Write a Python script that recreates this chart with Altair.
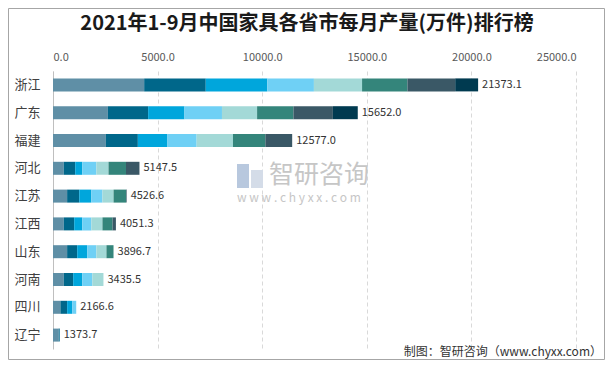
import altair as alt
import pandas as pd

provinces = ["浙江", "广东", "福建", "河北", "江苏", "江西", "山东", "河南", "四川", "辽宁"]
totals = [21373.1, 15652.0, 12577.0, 5147.5, 4526.6, 4051.3, 3896.7, 3435.5, 2166.6, 1373.7]
months = ["1-2月", "3月", "4月", "5月", "6月", "7月", "8月", "9月"]

m12 = [4358, 2623, 2528, 515, 675, 515, 675, 515, 354, 273]
m3 = [2944, 1925, 1528, 547, 579, 498, 482, 450, 322, 48]
m4 = [2943, 1736, 1415, 338, 579, 386, 482, 434, 241, 0]
m5 = [2227, 1793, 1396, 675, 531, 434, 434, 482, 193, 0]
m6 = [2302, 1679, 1736, 579, 531, 531, 482, 531, 0, 0]
m7 = [2169, 1736, 1547, 836, 595, 482, 338, 0, 0, 0]
m8 = [2283, 1887, 1283, 643, 30, 161, 0, 0, 0, 0]
m9 = [1095, 1189, 0, 0, 0, 0, 0, 0, 0, 0]

colors = ["#5f8fa6", "#00678a", "#00a6dc", "#6fd0f5", "#a3d9d7", "#34857b", "#3a5866", "#003a50"]

series = [m12, m3, m4, m5, m6, m7, m8, m9]
rows = []
for mi, (mname, vals) in enumerate(zip(months, series)):
    for p, v in zip(provinces, vals):
        if v > 0:
            rows.append({"province": p, "month": mname, "idx": mi, "value": v})
df = pd.DataFrame(rows)

ends = [sum(s[i] for s in series) for i in range(len(provinces))]
lab = pd.DataFrame({"province": provinces, "end": ends,
                    "text": [f"{t:.1f}" for t in totals]})

W, H = 523, 278
FONT = "Noto Sans CJK SC"

yenc = alt.Y("province:N", sort=provinces, title=None,
             scale=alt.Scale(paddingInner=0, paddingOuter=0),
             axis=alt.Axis(domain=True, domainColor="#bfbfbf", ticks=False,
                           labelPadding=13, labelFontSize=13, labelColor="#404040",
                           labelFont=FONT, grid=False))

bars = alt.Chart(df).mark_bar(size=13).encode(
    x=alt.X("value:Q", stack="zero", title=None,
            scale=alt.Scale(domain=[0, 25000], nice=False),
            axis=alt.Axis(orient="top", values=[0, 5000, 10000, 15000, 20000, 25000],
                          format=".1f", domain=False, ticks=False, labelPadding=9,
                          labelFontSize=11, labelColor="#595959", labelFont=FONT,
                          grid=True, gridColor="#d9d9d9", gridDash=[4, 3])),
    y=yenc,
    color=alt.Color("month:N", scale=alt.Scale(domain=months, range=colors), legend=None),
    order=alt.Order("idx:Q"),
)

labels = alt.Chart(lab).mark_text(align="left", baseline="middle", dx=4,
                                  fontSize=11, color="#333333", font=FONT).encode(
    x=alt.X("end:Q"),
    y=alt.Y("province:N", sort=provinces),
    text="text:N",
)

title_df = pd.DataFrame({"t": ["2021年1-9月中国家具各省市每月产量(万件)排行榜"]})
title = alt.Chart(title_df).mark_text(fontSize=20, fontWeight="bold", color="#1a1a1a",
                                      font=FONT, align="center", baseline="middle").encode(
    x=alt.value(254), y=alt.value(-47), text="t:N")

src_df = pd.DataFrame({"t": ["制图：智研咨询（www.chyxx.com）"]})
source = alt.Chart(src_df).mark_text(fontSize=12, color="#333333", font=FONT,
                                     align="right", baseline="middle").encode(
    x=alt.value(549), y=alt.value(281), text="t:N")

wm1_df = pd.DataFrame({"t": ["智研咨询"]})
wm1 = alt.Chart(wm1_df).mark_text(fontSize=25, color="#c6c6c6", font=FONT,
                                  align="left", baseline="middle").encode(
    x=alt.value(216), y=alt.value(104), text="t:N")
wm2_df = pd.DataFrame({"t": ["w w w . c h y x x . c o m"]})
wm2 = alt.Chart(wm2_df).mark_text(fontSize=12, color="#c6c6c6", font=FONT,
                                  align="left", baseline="middle").encode(
    x=alt.value(184), y=alt.value(127), text="t:N")

logo_a = alt.Chart(pd.DataFrame({"a": [0]})).mark_rect(fill="#b8c8de").encode(
    x=alt.value(184), x2=alt.value(196), y=alt.value(93), y2=alt.value(117))
logo_b = alt.Chart(pd.DataFrame({"a": [0]})).mark_rect(fill="#d4dce8").encode(
    x=alt.value(198), x2=alt.value(210), y=alt.value(99), y2=alt.value(117))

frame = alt.Chart(pd.DataFrame({"a": [0]})).mark_rect(
    fill=None, stroke="#a6a6a6", strokeWidth=1).encode(
    x=alt.value(-44.5), x2=alt.value(551.5), y=alt.value(-62.5), y2=alt.value(288.5))

chart = alt.layer(logo_a, logo_b, wm1, wm2, bars, labels, title, source, frame).properties(
    width=W, height=H,
    autosize=alt.AutoSizeParams(type="none"),
    padding={"left": 45, "top": 63, "right": 29, "bottom": 11},
    background="white",
).configure_view(stroke=None)

chart.save("out.html", embed_options={"renderer": "svg", "actions": False})
